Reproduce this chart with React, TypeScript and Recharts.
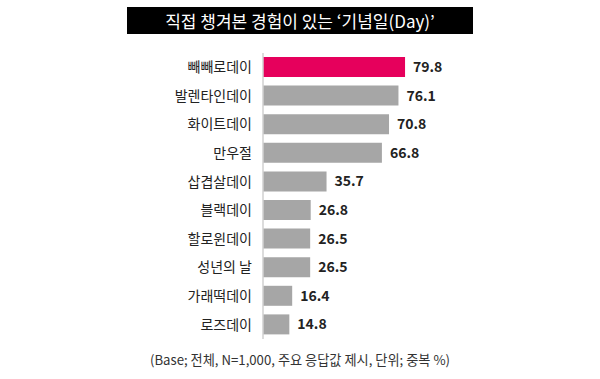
import React from 'react';
import { BarChart, Bar, XAxis, YAxis, Cell, LabelList } from 'recharts';

const categories = ['빼빼로데이', '발렌타인데이', '화이트데이', '만우절', '삽겹살데이', '블랙데이', '할로윈데이', '성년의 날', '가래떡데이', '로즈데이'];
const values = [79.8, 76.1, 70.8, 66.8, 35.7, 26.8, 26.5, 26.5, 16.4, 14.8];
const titleText = '직접 챙겨본 경험이 있는 ‘기념일(Day)’';
const footerText = '(Base; 전체, N=1,000, 주요 응답값 제시, 단위; 중복 %)';

const data = categories.map((name, i) => ({ name, value: values[i] }));

const FONT = '"Noto Sans CJK KR", "Noto Sans", sans-serif';

export default function App() {
  return (
    <div style={{ position: 'absolute', left: 0, top: 0, width: 600, height: 379, background: '#fff', fontFamily: FONT }}>
      <div
        style={{
          position: 'absolute',
          left: 127,
          top: 7,
          width: 346,
          height: 27,
          background: '#000',
          color: '#fff',
          fontSize: 17,
          lineHeight: '27px',
          textAlign: 'center',
          fontFamily: FONT,
        }}
      >
        {titleText}
      </div>
      <div style={{ position: 'absolute', left: 0, top: 0 }}>
        <BarChart
          width={600}
          height={379}
          data={data}
          layout="vertical"
          margin={{ top: 53, right: 159, bottom: 40, left: 0 }}
          barCategoryGap={0}
        >
          <XAxis type="number" domain={[0, 100]} hide />
          <YAxis
            type="category"
            dataKey="name"
            width={263}
            axisLine={{ stroke: '#d0d0d0', strokeWidth: 1.5 }}
            tickLine={false}
            tickSize={0}
            tickMargin={11}
            tick={{ fill: '#222', fontSize: 14, fontFamily: FONT }}
            interval={0}
          />
          <Bar dataKey="value" barSize={20} isAnimationActive={false}>
            {data.map((d, i) => (
              <Cell key={d.name} fill={i === 0 ? '#E6005C' : '#A6A6A6'} />
            ))}
            <LabelList
              dataKey="value"
              position="right"
              offset={8}
              formatter={(v: number) => v.toFixed(1)}
              style={{ fill: '#222', fontSize: 14, fontWeight: 700, fontFamily: FONT }}
            />
          </Bar>
        </BarChart>
      </div>
      <div
        style={{
          position: 'absolute',
          left: 0,
          top: 351,
          width: 600,
          textAlign: 'center',
          fontSize: 13.2,
          color: '#333',
          fontFamily: FONT,
          lineHeight: '18px',
        }}
      >
        {footerText}
      </div>
    </div>
  );
}
